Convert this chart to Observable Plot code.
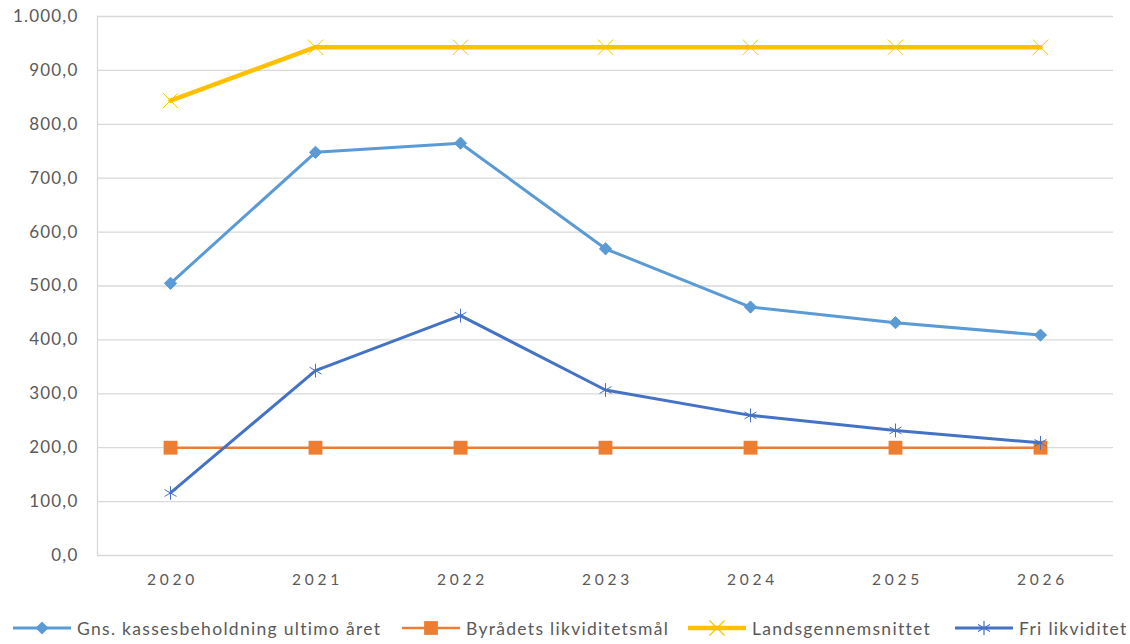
<!DOCTYPE html>
<html>
<head>
<meta charset="utf-8">
<script src="https://cdn.jsdelivr.net/npm/d3@7"></script>
<script src="https://cdn.jsdelivr.net/npm/@observablehq/plot@0.6"></script>
<style>
  html, body { margin: 0; padding: 0; background: #fff; }
  #chart { position: relative; width: 1130px; height: 644px; font-family: Lato, "Open Sans", sans-serif; }
  #legend { position: absolute; left: 0; top: 612px; width: 1130px; height: 32px; }
  .item { position: absolute; top: 0; height: 32px; display: flex; align-items: center; font-size: 17.5px; color: #595959; letter-spacing: 1.3px; white-space: nowrap; }
  .item svg { margin-right: 6px; }
</style>
</head>
<body>
<div id="chart"><div id="plot"></div><div id="legend"></div></div>
<script>
const years = ["2020", "2021", "2022", "2023", "2024", "2025", "2026"];
const seriesNames = ["Gns. kassesbeholdning ultimo året", "Byrådets likviditetsmål", "Landsgennemsnittet", "Fri likviditet"];
const gnsKasse = [505, 748, 765, 569, 461, 432, 409];
const byraadMaal = [200, 200, 200, 200, 200, 200, 200];
const landsgns = [844, 943, 943, 943, 943, 943, 943];
const friLikv = [116, 343, 445, 307, 260, 232, 209];
const yTicks = [0, 100, 200, 300, 400, 500, 600, 700, 800, 900, 1000];

const colors = ["#5B9BD5", "#ED7D31", "#FFC000", "#4472C4"];
const symbols = ["diamond2", "square", "times", "asterisk"];
const widths = [3, 2.5, 4.5, 3];
const allValues = [gnsKasse, byraadMaal, landsgns, friLikv];

const data = [];
seriesNames.forEach((s, i) => years.forEach((y, j) => data.push({series: s, idx: i, year: y, value: allValues[i][j]})));

const locale = d3.formatLocale({decimal: ",", thousands: ".", grouping: [3], currency: ["", " kr."]});
const fmt = locale.format(",.1f");

const marks = [
  Plot.gridY(yTicks, {stroke: "#d9d9d9", strokeOpacity: 1, strokeWidth: 1.3}),
  Plot.frame({anchor: "left", stroke: "#d9d9d9", strokeWidth: 1.3}),
  Plot.axisY(yTicks, {tickSize: 0, tickPadding: 19, tickFormat: fmt, fontSize: 17, fill: "#595959", label: null}),
  Plot.axisX({tickSize: 0, tickPadding: 18, dx: 2, fontSize: 15.5, fill: "#595959", label: null})
];
seriesNames.forEach((s, i) => {
  const d = data.filter(e => e.idx === i);
  marks.push(Plot.line(d, {x: "year", y: "value", stroke: colors[i], strokeWidth: widths[i]}));
  if (i === 0) marks.push(Plot.dot(d, {x: "year", y: "value", symbol: "diamond2", fill: colors[i], stroke: colors[i], strokeWidth: 1, r: 5.5}));
  if (i === 1) marks.push(Plot.dot(d, {x: "year", y: "value", symbol: "square", fill: colors[i], r: 7.8}));
  if (i === 2) marks.push(Plot.dot(d, {x: "year", y: "value", symbol: "times", stroke: colors[i], strokeWidth: 1, r: 7}));
  if (i === 3) marks.push(Plot.dot(d, {x: "year", y: "value", symbol: "asterisk", stroke: colors[i], strokeWidth: 1, r: 6.5}));
});

const chart = Plot.plot({
  width: 1130,
  height: 600,
  marginTop: 16,
  marginBottom: 45,
  marginLeft: 97,
  marginRight: 17,
  style: {fontFamily: "Lato, 'Open Sans', sans-serif", fontSize: "16px", background: "#fff"},
  x: {type: "point", domain: years, padding: 0.5, axis: null},
  y: {domain: [0, 1000], axis: null},
  marks
});
document.getElementById("plot").appendChild(chart);
d3.select(chart).selectAll('g[aria-label="x-axis tick label"] text').style("letter-spacing", "3.8px");
d3.select(chart).selectAll('g[aria-label="y-axis tick label"] text').style("letter-spacing", "1.2px");

// legend
const legendX = [13, 402, 688, 955];
const legend = document.getElementById("legend");
seriesNames.forEach((s, i) => {
  const item = document.createElement("div");
  item.className = "item";
  item.style.left = legendX[i] + "px";
  const sw = d3.create("svg").attr("width", 58).attr("height", 20);
  sw.append("line").attr("x1", 0).attr("x2", 58).attr("y1", 10).attr("y2", 10).attr("stroke", colors[i]).attr("stroke-width", widths[i]);
  const sym = {diamond2: d3.symbolDiamond2, square: d3.symbolSquare, times: d3.symbolTimes, asterisk: d3.symbolAsterisk}[symbols[i]];
  const size = [110, 190, 150, 135][i];
  const p = sw.append("path").attr("transform", "translate(29,10)").attr("d", d3.symbol(sym, size)());
  if (i < 2) p.attr("fill", colors[i]); else p.attr("fill", "none").attr("stroke", colors[i]).attr("stroke-width", 1.2);
  item.appendChild(sw.node());
  const t = document.createElement("span");
  t.textContent = s;
  item.appendChild(t);
  legend.appendChild(item);
});
</script>
</body>
</html>
